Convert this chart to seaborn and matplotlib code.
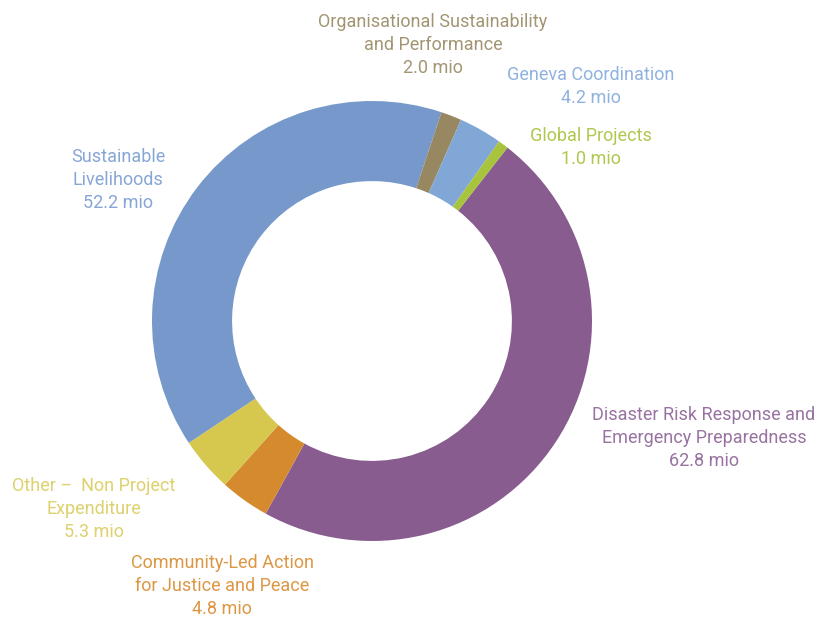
import matplotlib.pyplot as plt
import seaborn as sns

sns.set_theme(style="white")
plt.rcParams['font.family'] = ['Roboto', 'DejaVu Sans']

# Expenditure by programme (CHF mio), clockwise from the top-right
labels = ["Disaster Risk Response and\nEmergency Preparedness",
          "Community-Led Action\nfor Justice and Peace",
          "Other \u2013  Non Project\nExpenditure",
          "Sustainable\nLivelihoods",
          "Organisational Sustainability\nand Performance",
          "Geneva Coordination",
          "Global Projects"]
values = [62.8, 4.8, 5.3, 52.2, 2.0, 4.2, 1.0]
wedge_colors = ["#885c8f", "#d68a2e", "#d6c84e", "#7698cb", "#978861", "#80a7d6", "#a8c43c"]
text_colors = ["#9873a1", "#dc9744", "#ddd16c", "#86a6d6", "#a39574", "#8fb2de", "#aec84e"]

# label centres in pixels (x, y of first line)
label_pos = [(704, 415), (222, 563), (94, 486), (118, 157), (433, 22), (591, 75), (591, 136)]

cx, cy, r = 372, 321, 220
W, H = 819, 617

fig = plt.figure(figsize=(W / 100, H / 100), dpi=100)
ax = fig.add_axes([0, 0, 1, 1])

ax.pie(values, colors=wedge_colors, startangle=52, counterclock=False,
       radius=1, wedgeprops=dict(width=0.364, edgecolor="none"))

for lab, val, col, (px, py) in zip(labels, values, text_colors, label_pos):
    x = (px - cx) / r
    y = (cy - py) / r
    ax.text(x, y + 0.042, f"{lab}\n{val:.1f} mio", ha="center", va="top",
            fontsize=13, fontweight="normal", color=col, linespacing=1.38)

ax.set_xlim(-cx / r, (W - cx) / r)
ax.set_ylim(-(H - cy) / r, cy / r)
ax.set_aspect("equal", adjustable="box")
ax.axis("off")

fig.savefig("out.png", dpi=100)
